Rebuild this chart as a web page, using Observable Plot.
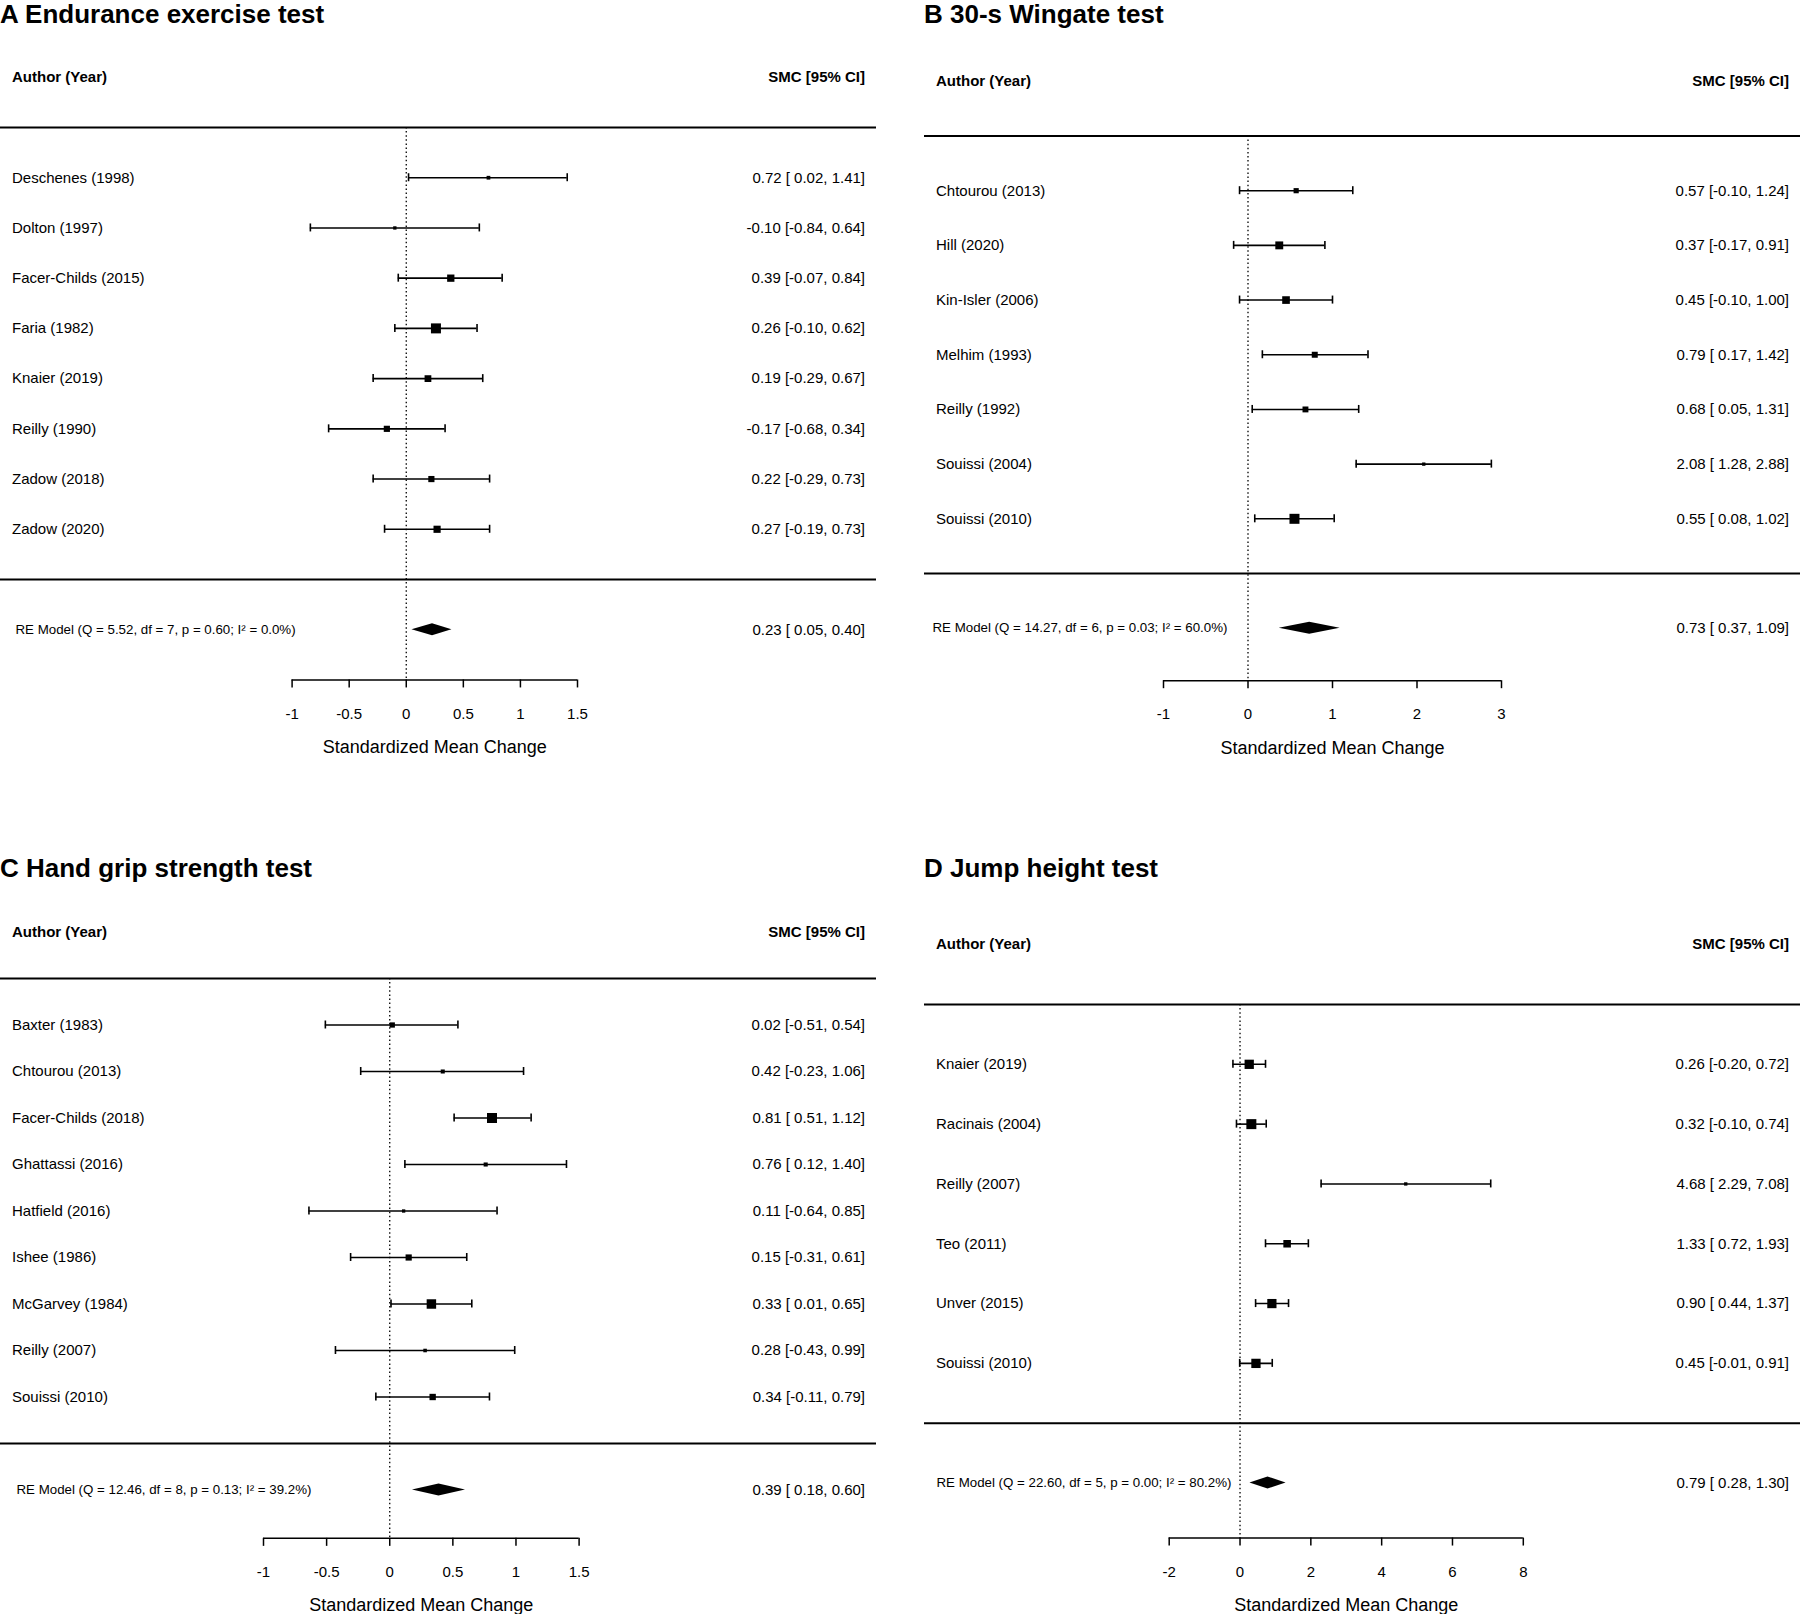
<!DOCTYPE html>
<html><head><meta charset="utf-8">
<script src="https://cdn.jsdelivr.net/npm/d3@7"></script>
<script src="https://cdn.jsdelivr.net/npm/@observablehq/plot@0.6"></script>
<style>
html,body{margin:0;padding:0;background:#fff;}
#page{position:relative;width:1800px;height:1614px;overflow:hidden;font-family:"Liberation Sans",Arial,sans-serif;color:#000;background:#fff;}
.title{position:absolute;font-weight:bold;font-size:26px;line-height:28px;white-space:nowrap;}
.panel{position:absolute;}
.panel svg{overflow:visible;}
</style></head><body><div id="page"></div>
<script>
// ---------- Panel A: Endurance exercise test ----------
const authorsA = ["Deschenes (1998)","Dolton (1997)","Facer-Childs (2015)","Faria (1982)","Knaier (2019)","Reilly (1990)","Zadow (2018)","Zadow (2020)"];
const estA = [0.72,-0.10,0.39,0.26,0.19,-0.17,0.22,0.27];
const loA  = [0.02,-0.84,-0.07,-0.10,-0.29,-0.68,-0.29,-0.19];
const hiA  = [1.41,0.64,0.84,0.62,0.67,0.34,0.73,0.73];
const reA  = [0.23,0.05,0.40];            // estimate, lower, upper
const hetA = [5.52,7,0.60,0.0];           // Q, df, p, I2
const ticksA = [-1,-0.5,0,0.5,1,1.5];

// ---------- Panel B: 30-s Wingate test ----------
const authorsB = ["Chtourou (2013)","Hill (2020)","Kin-Isler (2006)","Melhim (1993)","Reilly (1992)","Souissi (2004)","Souissi (2010)"];
const estB = [0.57,0.37,0.45,0.79,0.68,2.08,0.55];
const loB  = [-0.10,-0.17,-0.10,0.17,0.05,1.28,0.08];
const hiB  = [1.24,0.91,1.00,1.42,1.31,2.88,1.02];
const reB  = [0.73,0.37,1.09];
const hetB = [14.27,6,0.03,60.0];
const ticksB = [-1,0,1,2,3];

// ---------- Panel C: Hand grip strength test ----------
const authorsC = ["Baxter (1983)","Chtourou (2013)","Facer-Childs (2018)","Ghattassi (2016)","Hatfield (2016)","Ishee (1986)","McGarvey (1984)","Reilly (2007)","Souissi (2010)"];
const estC = [0.02,0.42,0.81,0.76,0.11,0.15,0.33,0.28,0.34];
const loC  = [-0.51,-0.23,0.51,0.12,-0.64,-0.31,0.01,-0.43,-0.11];
const hiC  = [0.54,1.06,1.12,1.40,0.85,0.61,0.65,0.99,0.79];
const reC  = [0.39,0.18,0.60];
const hetC = [12.46,8,0.13,39.2];
const ticksC = [-1,-0.5,0,0.5,1,1.5];

// ---------- Panel D: Jump height test ----------
const authorsD = ["Knaier (2019)","Racinais (2004)","Reilly (2007)","Teo (2011)","Unver (2015)","Souissi (2010)"];
const estD = [0.26,0.32,4.68,1.33,0.90,0.45];
const loD  = [-0.20,-0.10,2.29,0.72,0.44,-0.01];
const hiD  = [0.72,0.74,7.08,1.93,1.37,0.91];
const reD  = [0.79,0.28,1.30];
const hetD = [22.60,5,0.00,80.2];
const ticksD = [-2,0,2,4,6,8];

const titles = ["A Endurance exercise test","B 30-s Wingate test","C Hand grip strength test","D Jump height test"];

const FONT = "Liberation Sans, Arial, sans-serif";
const f2 = v => v.toFixed(2);
const padNum = v => (v < 0 ? "" : " ") + v.toFixed(2);
const ciLabel = (e, l, h) => `${f2(e)} [${padNum(l)}, ${f2(h)}]`;

function forest(cfg) {
  const {authors, est, lo, hi, re, het, ticks, side, height, hlineTop, hlineZero, xRange, reDx} = cfg;
  const k = authors.length;
  const rows = authors.map((a, i) => ({author: a, est: est[i], lo: lo[i], hi: hi[i], row: k - i, prec: 1 / (hi[i] - lo[i])}));
  const spacing = (hlineZero - hlineTop) / (k + 1);
  const axisRow = -1.5 - 0.04 * (k + 4.5);
  const axisPx = hlineZero - axisRow * spacing;
  const W = 900;
  const mL = side === "left" ? 0 : 24, mR = side === "left" ? 24 : 0;
  const whisk = 4 / spacing, dh = 6 / spacing;
  const diamond = [
    {x: re[1], y1: -1, y2: -1},
    {x: re[0], y1: -1 - dh, y2: -1 + dh},
    {x: re[2], y1: -1, y2: -1}
  ];
  const reText = `RE Model (Q = ${f2(het[0])}, df = ${het[1]}, p = ${f2(het[2])}; I\u00B2 = ${het[3].toFixed(1)}%)`;
  const tMin = ticks[0], tMax = ticks[ticks.length - 1];
  return Plot.plot({
    width: W, height,
    marginLeft: mL, marginRight: mR, marginTop: hlineTop, marginBottom: height - axisPx,
    style: {fontFamily: FONT, fontSize: "15px", color: "black", background: "transparent", overflow: "visible"},
    x: {domain: [tMin, tMax], range: xRange},
    y: {domain: [axisRow, k + 1], axis: null},
    r: {type: "linear", domain: d3.extent(rows, d => d.prec), range: [1.88, 5.64]},
    marks: [
      Plot.ruleY([k + 1, 0], {stroke: "black", strokeWidth: 2}),
      Plot.ruleX([{x: 0, y1: k + 1, y2: axisRow}], {x: "x", y1: "y1", y2: "y2", stroke: "black", strokeWidth: 1.3, strokeDasharray: "1.5,2.6"}),
      Plot.ruleY(rows, {y: "row", x1: "lo", x2: "hi", stroke: "black", strokeWidth: 1.6}),
      Plot.ruleX(rows, {x: "lo", y1: d => d.row - whisk, y2: d => d.row + whisk, stroke: "black", strokeWidth: 1.6}),
      Plot.ruleX(rows, {x: "hi", y1: d => d.row - whisk, y2: d => d.row + whisk, stroke: "black", strokeWidth: 1.6}),
      Plot.dot(rows, {x: "est", y: "row", r: "prec", symbol: "square", fill: "black", stroke: "none"}),
      Plot.text(rows, {y: "row", text: "author", frameAnchor: "left", textAnchor: "start", dx: 11.5}),
      Plot.text(rows, {y: "row", text: d => ciLabel(d.est, d.lo, d.hi), frameAnchor: "right", textAnchor: "end", dx: -11.5}),
      Plot.text([{y: k + 2, t: "Author (Year)"}], {y: "y", text: "t", frameAnchor: "left", textAnchor: "start", dx: 11.5, fontWeight: "bold"}),
      Plot.text([{y: k + 2, t: "SMC [95% CI]"}], {y: "y", text: "t", frameAnchor: "right", textAnchor: "end", dx: -11.5, fontWeight: "bold"}),
      Plot.areaY(diamond, {x: "x", y1: "y1", y2: "y2", fill: "black"}),
      Plot.text([{y: -1, t: reText}], {y: "y", text: "t", frameAnchor: "left", textAnchor: "start", dx: reDx, fontSize: 13.3}),
      Plot.text([{y: -1, t: ciLabel(re[0], re[1], re[2])}], {y: "y", text: "t", frameAnchor: "right", textAnchor: "end", dx: -11.5}),
      Plot.ruleY([{y: axisRow, x1: tMin, x2: tMax}], {y: "y", x1: "x1", x2: "x2", stroke: "black", strokeWidth: 1.5}),
      Plot.axisX({anchor: "bottom", ticks: ticks, tickFormat: d => String(d), tickSize: 8, tickPadding: 20, fontSize: 15, label: null, strokeWidth: 1.5}),
      Plot.text([{x: (tMin + tMax) / 2, t: "Standardized Mean Change"}], {x: "x", text: "t", frameAnchor: "bottom", dy: 73, fontSize: 18})
    ]
  });
}

const page = document.getElementById("page");
function addTitle(text, left, top) {
  const d = document.createElement("div");
  d.className = "title"; d.textContent = text;
  d.style.left = left + "px"; d.style.top = top + "px";
  page.appendChild(d);
}
function addPanel(svg, left, top) {
  const d = document.createElement("div");
  d.className = "panel"; d.style.left = left + "px"; d.style.top = top + "px";
  d.appendChild(svg); page.appendChild(d);
}

addPanel(forest({authors: authorsA, est: estA, lo: loA, hi: hiA, re: reA, het: hetA, ticks: ticksA,
  side: "left", height: 775, hlineTop: 97, hlineZero: 549, xRange: [291.6, 577], reDx: 15}), 0, 30);
addPanel(forest({authors: authorsB, est: estB, lo: loB, hi: hiB, re: reB, het: hetB, ticks: ticksB,
  side: "right", height: 775, hlineTop: 105.5, hlineZero: 543, xRange: [263, 601], reDx: 8}), 900, 30);
addPanel(forest({authors: authorsC, est: estC, lo: loC, hi: hiC, re: reC, het: hetC, ticks: ticksC,
  side: "left", height: 729, hlineTop: 93, hlineZero: 558, xRange: [263, 578.6], reDx: 16}), 0, 885);
addPanel(forest({authors: authorsD, est: estD, lo: loD, hi: hiD, re: reD, het: hetD, ticks: ticksD,
  side: "right", height: 729, hlineTop: 119, hlineZero: 537.7, xRange: [268.7, 622.8], reDx: 12}), 900, 885);

addTitle(titles[0], 0, 0);
addTitle(titles[1], 924, 0);
addTitle(titles[2], 0, 854);
addTitle(titles[3], 924, 854);
</script></body></html>
